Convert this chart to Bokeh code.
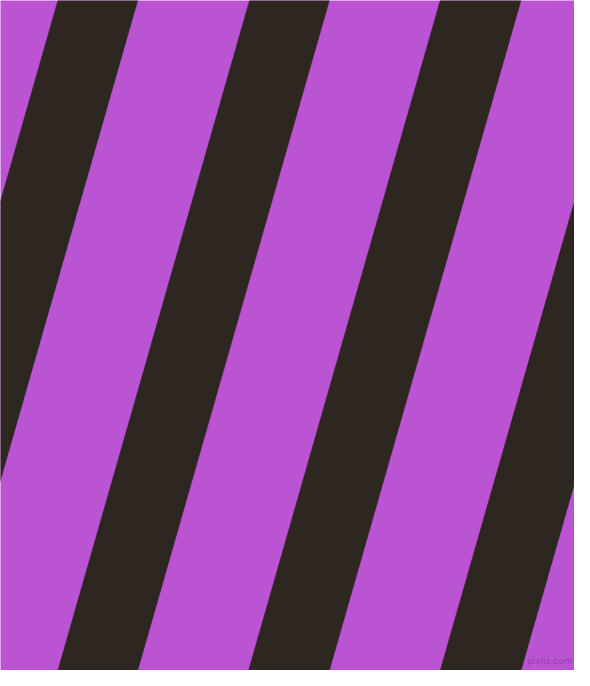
from bokeh.plotting import figure
from bokeh.models import ColumnDataSource, Range1d
from bokeh.embed import file_html
from bokeh.resources import INLINE
from bokeh.core.properties import value

# picture is 590 x 686 "units", y up
W, H = 590, 686
purple = "#BA54D3"
dark = "#2E2621"

# dark stripes: x where each one meets the top edge (left, right)
stripe_top_left = [-138, 59, 256, 452, 649]
stripe_top_right = [-56, 141, 338, 535, 732]
# how far a stripe moves left from top to bottom
shift = 197

xs, ys = [], []
for l, r in zip(stripe_top_left, stripe_top_right):
    xs.append([l, r, r - shift, l - shift])
    ys.append([H, H, 0, 0])
source = ColumnDataSource(data=dict(xs=xs, ys=ys))

p = figure(width=574, height=670, output_backend="svg", toolbar_location=None,
           x_range=Range1d(0, W), y_range=Range1d(0, H),
           min_border=0, background_fill_color=purple, border_fill_color=purple)
p.axis.visible = False
p.grid.visible = False
p.outline_line_color = None

p.patches('xs', 'ys', source=source, fill_color=dark, line_color=dark, line_width=0.5)

p.text(x=[588], y=[5], text=["pixlis.com"], text_align="right", text_baseline="bottom",
       text_font=value("DejaVu Sans"), text_font_size="9px",
       text_color="#8a3a9e", text_alpha=0.8)

open("out.html", "w").write(file_html(p, INLINE))
